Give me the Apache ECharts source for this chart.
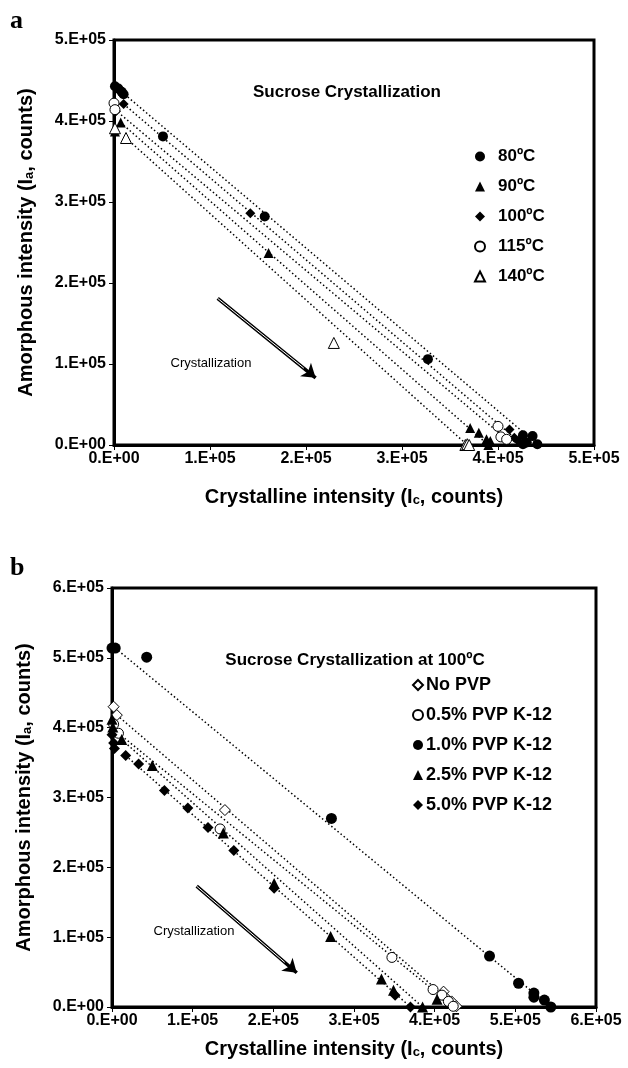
<!DOCTYPE html>
<html>
<head>
<meta charset="utf-8">
<script src="https://cdn.jsdelivr.net/npm/echarts@6/dist/echarts.min.js"></script>
<style>
  html, body { margin: 0; padding: 0; background: #fff; }
  #main { width: 628px; height: 1068px; }
</style>
</head>
<body>
<div id="main"></div>
<script>
// panel a - sucrose at different temperatures
var aNames = ['80ºC', '90ºC', '100ºC', '115ºC', '140ºC'];
var a80 = [[1000, 443000], [4500, 440000], [8000, 436000], [10000, 433000], [51000, 381000], [157000, 282000],
    [327000, 106000], [426000, 12000], [436000, 11000], [441000, 1000], [426000, 1000], [430000, 3000]];
var a90 = [[1000, 387000], [7000, 398000], [161000, 237000], [371000, 21000], [380000, 15000], [388000, 7000],
    [392000, 5000], [390000, 0]];
var a100 = [[2000, 412000], [10000, 421000], [142000, 286000], [412000, 19000], [417000, 9000], [421000, 5000]];
var a115 = [[0, 422000], [1000, 414000], [400000, 23000], [403000, 10000], [409000, 7000]];
var a140 = [[1000, 391000], [12500, 379000], [229000, 126000], [366000, 0], [368000, 1000], [370000, 0]];
// trend lines (start, end)
var a80Trend = [[8000, 436000], [441000, 1000]];
var a90Trend = [[7000, 398000], [388000, 2000]];
var a100Trend = [[10000, 421000], [421000, 5000]];
var a115Trend = [[1000, 414000], [409000, 7000]];
var a140Trend = [[12500, 379000], [368000, 0]];
var aTicks = ['0.E+00', '1.E+05', '2.E+05', '3.E+05', '4.E+05', '5.E+05'];

// panel b - sucrose at 100ºC with PVP
var bNames = ['No PVP', '0.5% PVP K-12', '1.0% PVP K-12', '2.5% PVP K-12', '5.0% PVP K-12'];
var bNo = [[2000, 430000], [6000, 418000], [140000, 282000], [411000, 22000], [415000, 12000], [421000, 8000], [427000, 1000]];
var b05 = [[2000, 405000], [8000, 392000], [134000, 255000], [347000, 71000], [398000, 25000], [409000, 17000],
    [417000, 8000], [423000, 1000]];
var b10 = [[0, 514000], [4000, 514000], [43000, 501000], [272000, 270000], [468000, 73000], [504000, 34000],
    [523000, 20000], [523000, 14000], [536000, 10000], [544000, 0]];
var b25 = [[0, 412000], [1000, 401000], [12000, 383000], [50000, 346000], [138000, 249000], [201000, 177000],
    [271000, 101000], [334000, 40000], [349000, 24000], [385000, 0], [403000, 11000]];
var b50 = [[0, 390000], [2000, 378000], [3000, 370000], [17000, 360000], [33000, 348000], [65000, 310000],
    [94000, 285000], [119000, 257000], [151000, 224000], [201000, 170000], [351000, 17000], [370000, 0]];
var bNoTrend = [[6000, 418000], [427000, 1000]];
var b05Trend = [[8000, 392000], [423000, 1000]];
var b10Trend = [[4000, 514000], [544000, 0]];
var b25Trend = [[12000, 383000], [385000, 0]];
var b50Trend = [[17000, 360000], [370000, 0]];
var bTicks = ['0.E+00', '1.E+05', '2.E+05', '3.E+05', '4.E+05', '5.E+05', '6.E+05'];

// arrows (data coordinates)
var aArrow = [[108000, 181000], [210000, 83000]];
var bArrow = [[105000, 173000], [229000, 49000]];

var font = 'Liberation Sans, Arial, sans-serif';
var myChart = echarts.init(document.getElementById('main'));

function nameStyle() {
    return {
        color: '#000', fontFamily: font, fontWeight: 'bold', fontSize: 20,
        rich: { s: { fontSize: 13, fontWeight: 'bold', fontFamily: font, padding: [6, 0, 0, 0] } }
    };
}
function xAxisOf(gi, max, ticks, gap) {
    return {
        gridIndex: gi, type: 'value', min: 0, max: max, interval: 100000,
        name: 'Crystalline intensity (I{s|c}, counts)', nameLocation: 'middle', nameGap: gap,
        nameTextStyle: nameStyle(),
        axisLine: { lineStyle: { color: '#000', width: 3 } },
        axisTick: { show: true, length: 5, lineStyle: { color: '#000', width: 1 } },
        splitLine: { show: false },
        axisLabel: {
            color: '#000', fontFamily: font, fontWeight: 'bold', fontSize: 16, margin: 6,
            formatter: function (v) { return ticks[Math.round(v / 100000)]; }
        }
    };
}
function yAxisOf(gi, max, ticks, gap) {
    return {
        gridIndex: gi, type: 'value', min: 0, max: max, interval: 100000,
        name: 'Amorphous intensity (I{s|a}, counts)', nameLocation: 'middle', nameGap: gap,
        nameTextStyle: nameStyle(),
        axisLine: { lineStyle: { color: '#000', width: 3 } },
        axisTick: { show: true, length: 5, lineStyle: { color: '#000', width: 1 } },
        splitLine: { show: false },
        axisLabel: {
            color: '#000', fontFamily: font, fontWeight: 'bold', fontSize: 16, margin: 8,
            formatter: function (v) { return ticks[Math.round(v / 100000)]; }
        }
    };
}

var filled = { color: '#000', opacity: 1 };
var hollow = { color: '#fff', borderColor: '#000', borderWidth: 1, opacity: 1 };

function pts(name, data, gi, symbol, size, style) {
    return {
        name: name, type: 'scatter', xAxisIndex: gi, yAxisIndex: gi,
        data: data, symbol: symbol, symbolSize: size, itemStyle: style, z: 5
    };
}
function trend(data, gi) {
    return {
        type: 'line', xAxisIndex: gi, yAxisIndex: gi, data: data, showSymbol: false, silent: true,
        lineStyle: { color: '#000', width: 1.5, type: [1.5, 2.5] }, z: 2
    };
}
function arrow(data, gi) {
    var seg = [[{ coord: data[0] }, { coord: data[1] }]];
    return [{
        type: 'line', xAxisIndex: gi, yAxisIndex: gi, data: [], silent: true,
        markLine: {
            silent: true, symbol: ['none', 'arrow'], symbolSize: 13, label: { show: false },
            lineStyle: { color: '#000', width: 3.5, type: 'solid' },
            data: seg
        }
    }, {
        type: 'line', xAxisIndex: gi, yAxisIndex: gi, data: [], silent: true,
        markLine: {
            silent: true, symbol: ['none', 'none'], label: { show: false },
            lineStyle: { color: '#fff', width: 1, type: 'solid' },
            data: [[{ coord: data[0] }, { coord: [data[0][0] + (data[1][0] - data[0][0]) * 0.88, data[0][1] + (data[1][1] - data[0][1]) * 0.88] }]]
        }
    }];
}

var option = {
    animation: false,
    backgroundColor: '#fff',
    grid: [
        { left: 114, top: 40, width: 480, height: 405, show: true, borderColor: '#000', borderWidth: 3 },
        { left: 112, top: 588, width: 484, height: 419, show: true, borderColor: '#000', borderWidth: 3 }
    ],
    xAxis: [xAxisOf(0, 500000, aTicks, 42), xAxisOf(1, 600000, bTicks, 32)],
    yAxis: [yAxisOf(0, 500000, aTicks, 78), yAxisOf(1, 600000, bTicks, 78)],
    legend: [
        {
            data: aNames, orient: 'vertical', left: 469, top: 143, itemWidth: 10, itemHeight: 10, itemGap: 13,
            textStyle: { color: '#000', fontFamily: font, fontWeight: 'bold', fontSize: 17, padding: [0, 0, 0, 8] }
        },
        {
            data: bNames, orient: 'vertical', left: 407, top: 671, itemWidth: 10, itemHeight: 10, itemGap: 12,
            textStyle: { color: '#000', fontFamily: font, fontWeight: 'bold', fontSize: 18, padding: [0, 0, 0, -2] }
        }
    ],
    graphic: [
        { type: 'text', left: 10, top: 8, style: { text: 'a', font: 'bold 26px "Liberation Serif", serif', fill: '#000' } },
        { type: 'text', left: 10, top: 555, style: { text: 'b', font: 'bold 26px "Liberation Serif", serif', fill: '#000' } },
        { type: 'text', x: 347, y: 92, style: { text: 'Sucrose Crystallization', font: 'bold 17px ' + font, fill: '#000', align: 'center', verticalAlign: 'middle' } },
        { type: 'text', x: 355, y: 660, style: { text: 'Sucrose Crystallization at 100ºC', font: 'bold 17px ' + font, fill: '#000', align: 'center', verticalAlign: 'middle' } },
        { type: 'text', x: 211, y: 363, style: { text: 'Crystallization', font: '13px ' + font, fill: '#000', align: 'center', verticalAlign: 'middle' } },
        { type: 'text', x: 194, y: 931, style: { text: 'Crystallization', font: '13px ' + font, fill: '#000', align: 'center', verticalAlign: 'middle' } }
    ],
    series: [
        trend(a80Trend, 0), trend(a90Trend, 0), trend(a100Trend, 0), trend(a115Trend, 0), trend(a140Trend, 0),
        pts(aNames[0], a80, 0, 'circle', 10, filled),
        pts(aNames[1], a90, 0, 'triangle', 10, filled),
        pts(aNames[2], a100, 0, 'diamond', 10, filled),
        pts(aNames[3], a115, 0, 'circle', 10, hollow),
        pts(aNames[4], a140, 0, 'triangle', 11, hollow),
        trend(bNoTrend, 1), trend(b05Trend, 1), trend(b10Trend, 1), trend(b25Trend, 1), trend(b50Trend, 1),
        pts(bNames[0], bNo, 1, 'diamond', 11, hollow),
        pts(bNames[1], b05, 1, 'circle', 10, hollow),
        pts(bNames[2], b10, 1, 'circle', 11, filled),
        pts(bNames[3], b25, 1, 'triangle', 11, filled),
        pts(bNames[4], b50, 1, 'diamond', 11, filled)
    ].concat(arrow(aArrow, 0), arrow(bArrow, 1))
};

myChart.setOption(option);
window.addEventListener('resize', function () {
    myChart.resize();
});
</script>
</body>
</html>
